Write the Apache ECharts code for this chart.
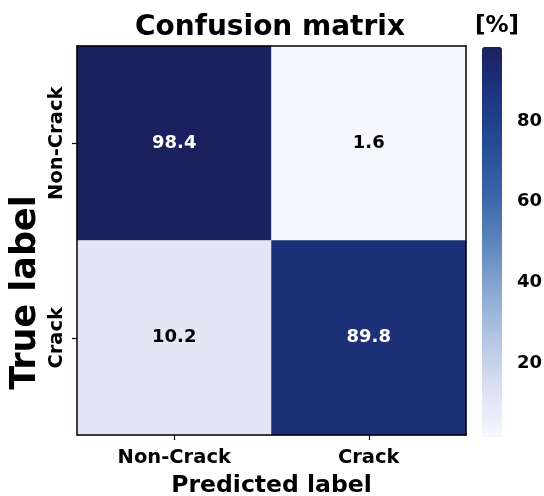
<!DOCTYPE html>
<html>
<head>
<meta charset="utf-8">
<script src="https://cdn.jsdelivr.net/npm/echarts@6/dist/echarts.min.js"></script>
<style>html,body{margin:0;padding:0;background:#fff;}#c{width:544px;height:496px;}</style>
</head>
<body>
<div id="c"></div>
<script>
const predictedLabels = ['Non-Crack', 'Crack'];
const trueLabels = ['Non-Crack', 'Crack'];
// rows: true label, cols: predicted label (percent)
const rowNonCrack = [98.4, 1.6];
const rowCrack = [10.2, 89.8];
const colorbarTicks = [20, 40, 60, 80];
const valueMin = 1.6;
const valueMax = 98.4;

const FONT = 'DejaVu Sans';
const matrix = [rowNonCrack, rowCrack];
const data = [];
matrix.forEach((row, yi) => row.forEach((v, xi) => data.push([xi, yi, v])));
const mid = (valueMax + valueMin) / 2;

const chart = echarts.init(document.getElementById('c'), null, {renderer: 'canvas'});
chart.setOption({
  backgroundColor: '#fff',
  animation: false,
  title: [
    {text: 'Confusion matrix', left: 265, top: 9, textAlign: 'center',
     textStyle: {fontFamily: FONT, fontWeight: 'bold', fontSize: 28, color: '#000'}},
    {text: '[%]', left: 492, top: 10, textAlign: 'center',
     textStyle: {fontFamily: FONT, fontWeight: 'bold', fontSize: 23, color: '#000'}}
  ],
  grid: [
    {left: 77, top: 46, width: 389, height: 389, outerBoundsMode: 'none', containLabel: false},
    {left: 482, top: 47, width: 20, height: 390, outerBoundsMode: 'none', containLabel: false}
  ],
  xAxis: [
    {type: 'category', gridIndex: 0, data: predictedLabels, position: 'bottom', z: 10,
     axisLine: {show: true, lineStyle: {color: '#000', width: 1.5}},
     axisTick: {show: true, alignWithLabel: true, length: 5, lineStyle: {color: '#000', width: 1.2}},
     axisLabel: {fontFamily: FONT, fontWeight: 'bold', fontSize: 19.5, color: '#000', margin: 13},
     name: 'Predicted label', nameLocation: 'middle', nameGap: 39,
     nameTextStyle: {fontFamily: FONT, fontWeight: 'bold', fontSize: 23.5, color: '#000'},
     splitLine: {show: false}},
    {type: 'category', gridIndex: 0, data: predictedLabels, position: 'top', z: 10,
     axisLine: {show: true, lineStyle: {color: '#000', width: 1.5}},
     axisTick: {show: false}, axisLabel: {show: false}},
    {type: 'value', gridIndex: 1, show: false, min: 0, max: 1}
  ],
  yAxis: [
    {type: 'category', gridIndex: 0, data: trueLabels, inverse: true, position: 'left', z: 10,
     axisLine: {show: true, lineStyle: {color: '#000', width: 1.5}},
     axisTick: {show: true, alignWithLabel: true, length: 5, lineStyle: {color: '#000', width: 1.2}},
     axisLabel: {fontFamily: FONT, fontWeight: 'bold', fontSize: 19.5, color: '#000', rotate: 90, margin: 10},
     name: 'True label', nameLocation: 'middle', nameGap: 34, nameMoveOverlap: false,
     nameTextStyle: {fontFamily: FONT, fontWeight: 'bold', fontSize: 35, color: '#000', padding: [0, 104, 0, 0]},
     splitLine: {show: false}},
    {type: 'category', gridIndex: 0, data: trueLabels, inverse: true, position: 'right', z: 10,
     axisLine: {show: true, lineStyle: {color: '#000', width: 1.5}},
     axisTick: {show: false}, axisLabel: {show: false}},
    {type: 'value', gridIndex: 1, position: 'right', min: valueMin, max: valueMax,
     axisLine: {show: false},
     axisTick: {show: true, length: 6, customValues: colorbarTicks, lineStyle: {color: '#000', width: 1.2}},
     axisLabel: {customValues: colorbarTicks, fontFamily: FONT, fontWeight: 'bold', fontSize: 18, color: '#000', margin: 15},
     splitLine: {show: false}}
  ],
  visualMap: {
    type: 'continuous', min: valueMin, max: valueMax, seriesIndex: 0,
    left: 482, top: 47, itemWidth: 20, itemHeight: 390, padding: 0,
    calculable: false, realtime: false, hoverLink: false,
    inRange: {color: ['#f6f8fd', '#d9e0f2', '#b4c6e4', '#88a8d2', '#5c85bd', '#3a64a8', '#254b94', '#1d3682', '#1b215f']}
  },
  series: [{
    type: 'heatmap', xAxisIndex: 0, yAxisIndex: 0,
    data: data.map(d => ({value: d, label: {color: d[2] > mid ? '#fff' : '#000'}})),
    label: {show: true, fontFamily: FONT, fontWeight: 'bold', fontSize: 18,
      formatter: p => p.value[2].toFixed(1), color: '#000'},
    itemStyle: {borderWidth: 0},
    emphasis: {disabled: true}
  }]
});
</script>
</body>
</html>
